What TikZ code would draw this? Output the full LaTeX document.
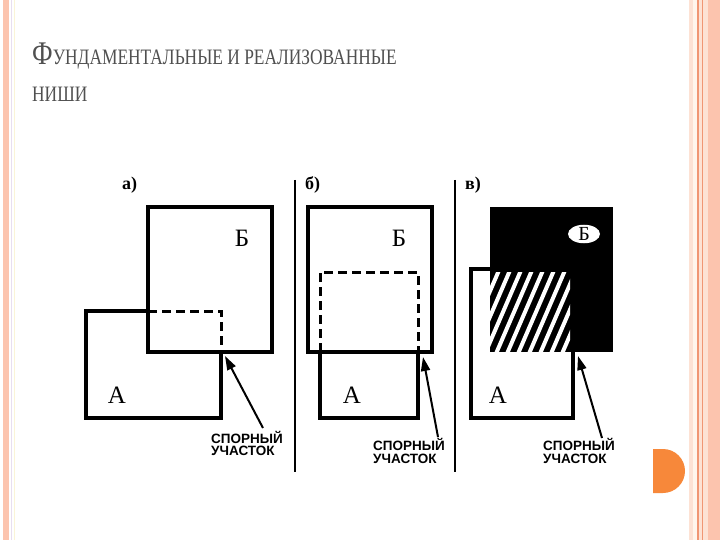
\documentclass[tikz,border=0pt]{standalone}
\usepackage{fontspec}
\setmainfont{Liberation Serif}
\newfontfamily\sansbold{Liberation Sans}
\usetikzlibrary{arrows.meta,shapes.geometric}
\definecolor{titlegray}{RGB}{80,80,80}
\definecolor{bpink}{RGB}{252,196,174}
\definecolor{bpeach}{RGB}{253,226,212}
\definecolor{bcream}{RGB}{255,246,236}
\definecolor{bline}{RGB}{240,150,115}
\definecolor{blav}{RGB}{232,222,240}
\definecolor{byel}{RGB}{250,244,215}
\definecolor{dorange}{RGB}{247,136,58}
\begin{document}
\begin{tikzpicture}[x=1pt,y=-1pt,
  box/.style={line width=3.2pt},
  dashbox/.style={line width=3pt, dash pattern=on 9pt off 5pt},
  pointer/.style={line width=2pt, -{Triangle[length=14pt,width=9pt]}},
  divider/.style={line width=2.8pt},
  lbl/.style={font=\fontsize{25}{25}\selectfont, inner sep=0},
  panel/.style={font=\bfseries\fontsize{18}{18}\selectfont, inner sep=0, anchor=west},
  note/.style={font=\sansbold\bfseries\fontsize{13.5}{13.5}\selectfont, inner sep=0, anchor=base west},
  hatch/.style={white, line width=4pt}]
\useasboundingbox (0,0) rectangle (720,540);
\fill[white] (0,0) rectangle (720,540);
% frame left
\fill[bpink] (3,0) rectangle (9,540);
\draw[blav, line width=1pt] (11.5,0) -- (11.5,540);
\draw[byel, line width=1pt] (14.5,0) -- (14.5,540);
% frame right
\fill[bpeach] (689,0) rectangle (720,540);
\fill[bcream] (693,0) rectangle (697,540);
\draw[bline, line width=1.5pt] (698,0) -- (698,540);
\draw[bline, line width=1.5pt] (702.5,0) -- (702.5,540);
\fill[bpink] (708,0) rectangle (720,540);
% orange tab
\fill[dorange] (663,449) arc[start angle=-90, end angle=90, radius=22] -- (653,493) -- (653,449) -- cycle;
% title
\node[anchor=base west, inner sep=0, text=titlegray] (title1) at (32,65)
  {\scalebox{0.79}[1]{\fontsize{33}{33}\selectfont Ф\fontsize{22}{22}\selectfont УНДАМЕНТАЛЬНЫЕ И РЕАЛИЗОВАННЫЕ}};
\node[anchor=base west, inner sep=0, text=titlegray] (title2) at (32,102)
  {\scalebox{0.79}[1]{\fontsize{22}{22}\selectfont НИШИ}};
% dividers
\draw[divider] (295,180) -- (295,472);
\draw[divider] (455,180) -- (455,472);
% panel a
\node[panel] (pa) at (122,185) {а)};
\draw[box] (148,207) rectangle (272,352);
\draw[box] (148,311) -- (86,311) -- (86,418) -- (221,418) -- (221,352);
\draw[dashbox] (148,311) -- (221,311) -- (221,352);
\node[lbl] (Ba) at (242,238) {Б};
\node[lbl] (Aa) at (117,395) {А};
\node[note] (na1) at (211,443) {СПОРНЫЙ};
\node[note] (na2) at (211,455.5) {УЧАСТОК};
\coordinate (taila) at (263,428);
\coordinate (tipa) at (225,356);
\draw[pointer] (taila) -- (tipa);
% panel b
\node[panel] (pb) at (305,185) {б)};
\draw[box] (308,207) rectangle (432,352);
\draw[box] (320,352) -- (320,418) -- (418,418) -- (418,352);
\draw[dashbox] (320,352) -- (320,272) -- (418,272) -- (418,352);
\node[lbl] (Bb) at (399,238) {Б};
\node[lbl] (Ab) at (352,395) {А};
\node[note] (nb1) at (373,450) {СПОРНЫЙ};
\node[note] (nb2) at (373,463) {УЧАСТОК};
\coordinate (tailb) at (438,437);
\coordinate (tipb) at (423,357);
\draw[pointer] (tailb) -- (tipb);
% panel c
\node[panel] (pc) at (465,185) {в)};
\draw[box] (471,269) rectangle (573,418);
\fill[black] (490,207) rectangle (613,352);
\begin{scope}
  \clip (490,272) rectangle (570,352);
  \foreach \s in {440,451,...,580} {
    \draw[hatch] (\s,356) -- (\s+38,268);
  }
\end{scope}
\node[ellipse, fill=white, minimum width=32pt, minimum height=18pt, inner sep=0,
  font=\fontsize{20}{20}\selectfont] (Bc) at (584,234) {Б};
\node[lbl] (Ac) at (498,395) {А};
\node[note] (nc1) at (543,450) {СПОРНЫЙ};
\node[note] (nc2) at (543,463) {УЧАСТОК};
\coordinate (tailc) at (602,438);
\coordinate (tipc) at (578,356);
\draw[pointer] (tailc) -- (tipc);
\end{tikzpicture}
\end{document}
